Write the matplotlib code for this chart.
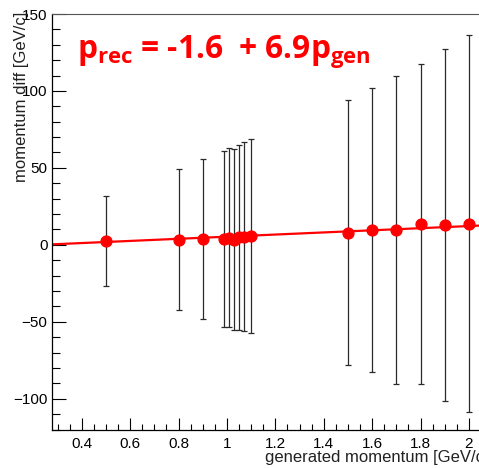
import numpy as np
import matplotlib
matplotlib.use("Agg")
import matplotlib.pyplot as plt
from matplotlib.ticker import MultipleLocator


# ============================================================
# 数据
# ============================================================

p_gen = [0.5, 0.8, 0.9, 0.99, 1.01, 1.03, 1.05, 1.07, 1.10,
         1.5, 1.6, 1.7, 1.8, 1.9, 2.0]
p_diff = [2.4, 3.3, 3.6, 3.7, 4.7, 3.4, 4.8, 5.3, 5.6,
          7.8, 9.6, 9.8, 13.6, 12.8, 13.6]
p_err = [29.3, 45.9, 52.0, 57.0, 58.2, 59.0, 59.9, 61.2, 62.9,
         86.0, 92.1, 100.0, 104.2, 114.2, 122.5]

# 拟合直线 p_rec = a + b * p_gen
fit_a = -1.6
fit_b = 6.9

x_label = "generated momentum [GeV/c]"
y_label = "momentum diff [GeV/c]"
fit_text = r"$p_{rec}$ = -1.6  + 6.9$p_{gen}$"


# ============================================================
# 字体设置
# ============================================================

plt.rcParams["font.family"] = ["Liberation Sans", "DejaVu Sans"]
plt.rcParams["mathtext.fontset"] = "custom"
plt.rcParams["mathtext.it"] = "Open Sans:bold"
plt.rcParams["mathtext.rm"] = "Open Sans:bold"
plt.rcParams["mathtext.bf"] = "Open Sans:bold"

W, H = 479, 468
fig = plt.figure(figsize=(W / 100, H / 100), dpi=100)

# 坐标轴位置 (像素换算), 右侧超出画布
x_min, x_max = 0.276, 2.2
y_min, y_max = -120, 150
px_per_x = 242.0
left_px, top_px, bottom_px = 51.7, 14.0, 429.5
ax = fig.add_axes([left_px / W, (H - bottom_px) / H,
                   (x_max - x_min) * px_per_x / W, (bottom_px - top_px) / H])

ax.set_xlim(x_min, x_max)
ax.set_ylim(y_min, y_max)

# 拟合线
xs = np.array(ax.get_xlim())
ax.plot(xs, fit_a + fit_b * xs, color="#ff0000", lw=1.6, zorder=2)

# 数据点 + 误差棒
ax.errorbar(p_gen, p_diff, yerr=p_err, fmt="o", color="#ff0000",
            markersize=7.8, ecolor="#2a2a2a", elinewidth=0.9,
            capsize=2.5, capthick=0.9, zorder=3)

# ROOT 风格刻度: 向内
ax.xaxis.set_major_locator(MultipleLocator(0.2))
ax.xaxis.set_minor_locator(MultipleLocator(0.05))
ax.yaxis.set_major_locator(MultipleLocator(50))
ax.yaxis.set_minor_locator(MultipleLocator(10))
ax.tick_params(axis="x", which="major", direction="in", length=8.6, width=0.8,
               labelsize=11, pad=5.5)
ax.tick_params(axis="x", which="minor", direction="in", length=4.3, width=0.8)
ax.tick_params(axis="y", which="major", direction="in", length=10, width=0.8,
               labelsize=11, pad=3.0)
ax.tick_params(axis="y", which="minor", direction="in", length=5.5, width=0.8)
ax.xaxis.set_major_formatter(plt.FuncFormatter(lambda v, p: f"{v:g}"))

ax.spines["top"].set_color("#555555")
ax.spines["right"].set_visible(False)
for s in ["left", "bottom"]:
    ax.spines[s].set_linewidth(0.9)

# 轴标题 (放在右下 / 左上, 和原图一样)
fig.text(265 / W, 1 - 462 / H, x_label, fontsize=12, ha="left",
         va="baseline", color="#222222")
fig.text(22 / W, 1 - 12 / H, y_label, fontsize=12, rotation=90,
         ha="center", va="top", color="#222222")

# 拟合公式
fig.text(77 / W, 1 - 58 / H, fit_text, fontsize=22.8, color="#ff0000",
         fontweight="bold", family="Open Sans", ha="left", va="baseline")

fig.savefig("out.png", dpi=100)
plt.close(fig)
